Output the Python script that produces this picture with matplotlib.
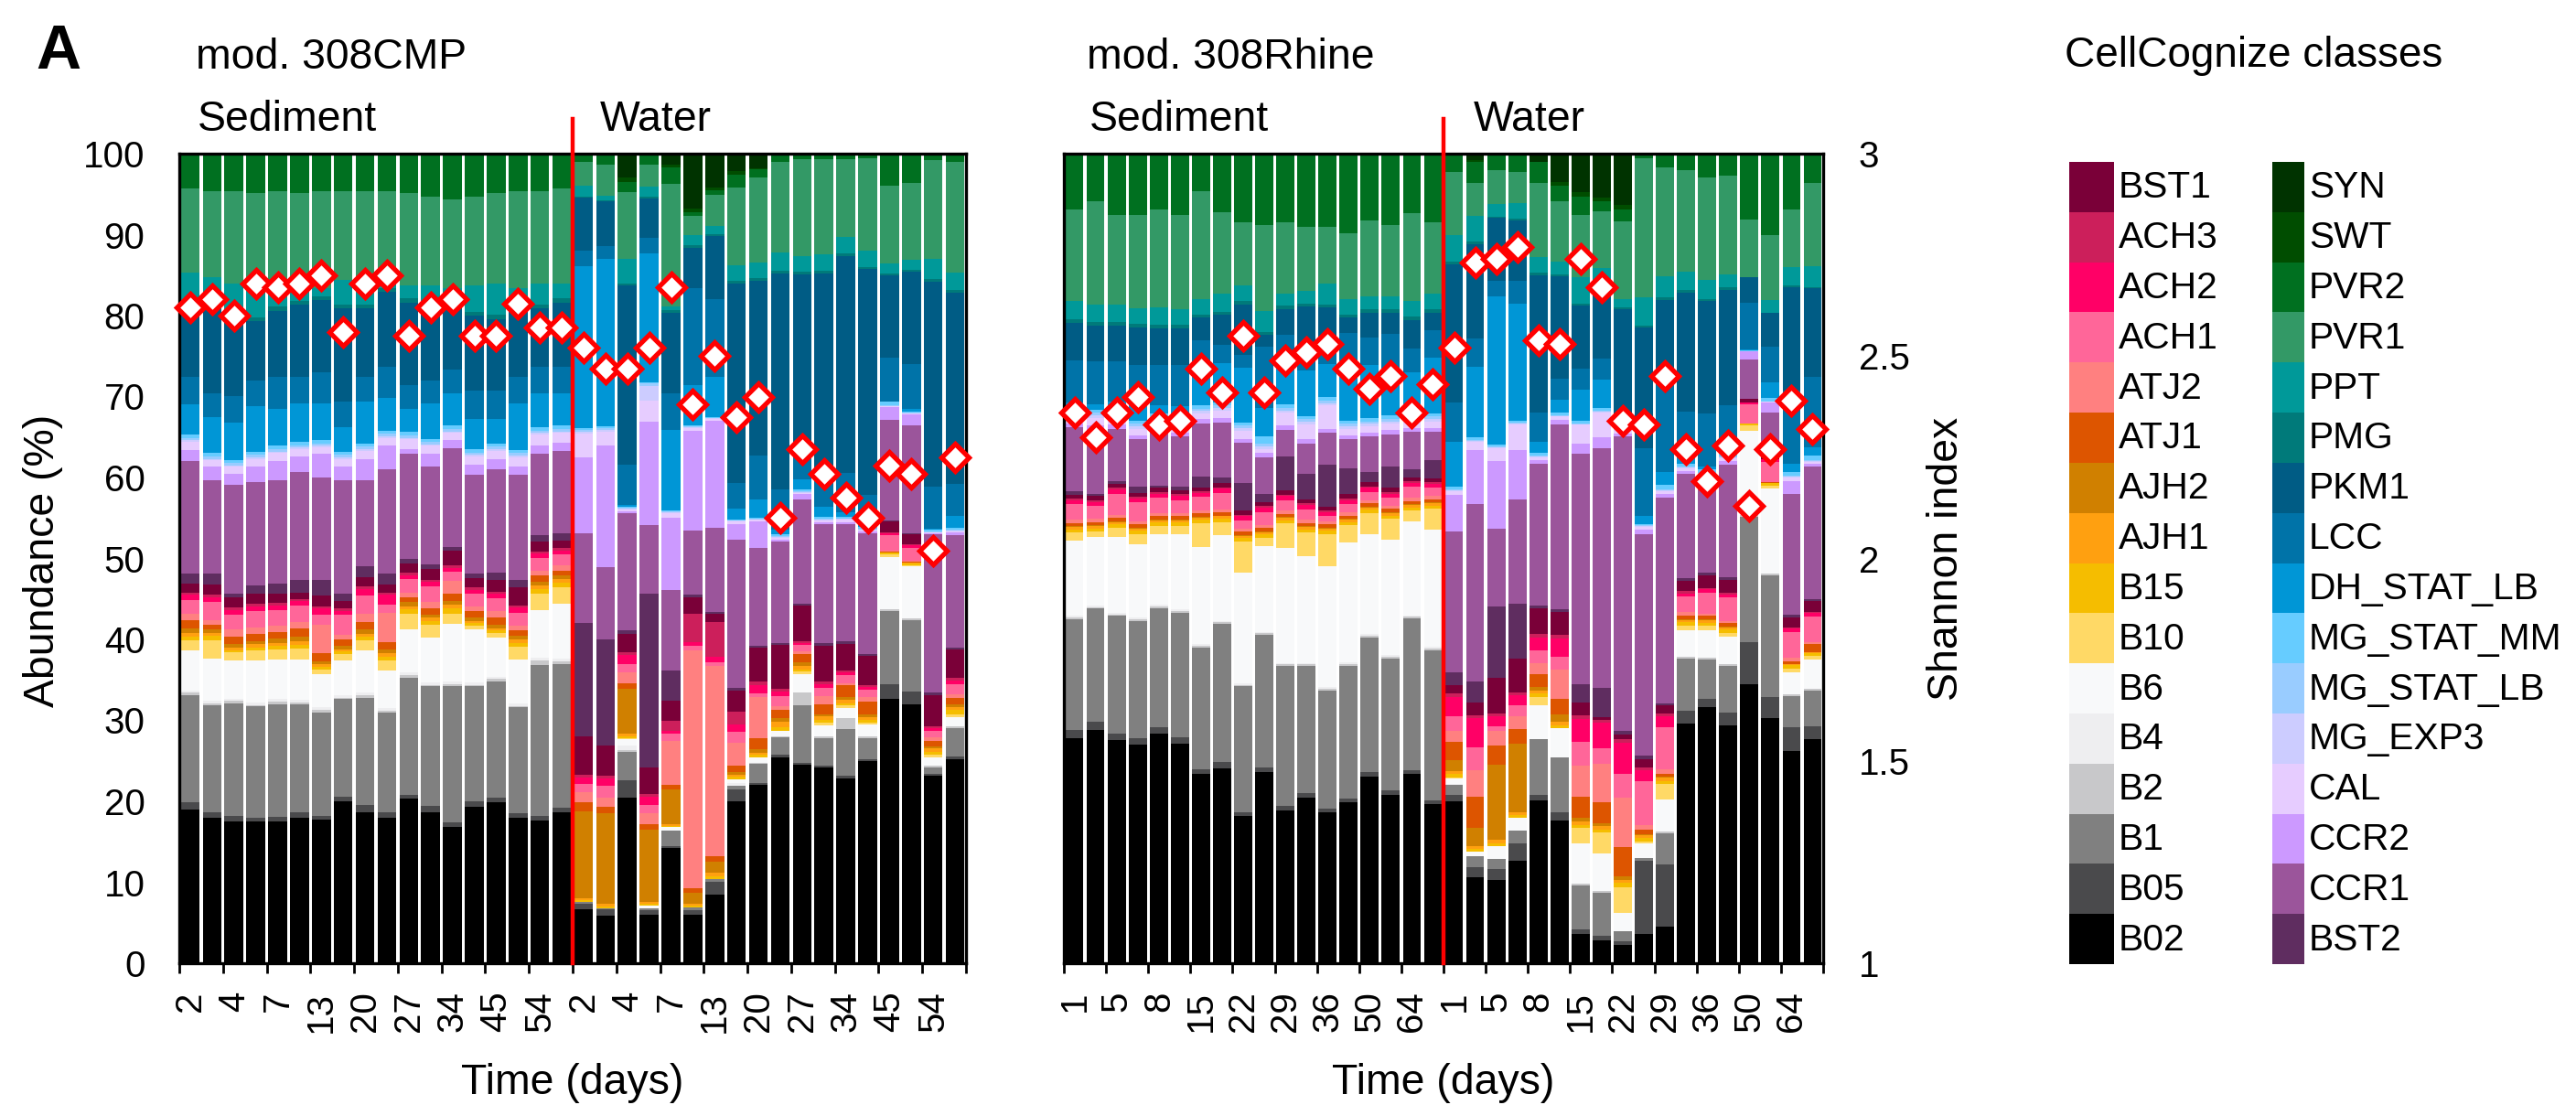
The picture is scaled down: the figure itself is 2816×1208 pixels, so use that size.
import numpy as np
import matplotlib
matplotlib.use("Agg")
import matplotlib.pyplot as plt
from matplotlib.patches import Rectangle

plt.rcParams['font.family'] = ['Liberation Sans', 'DejaVu Sans']

# ---------------------------------------------------------------- data
# stacking order, bottom -> top
classes = ["B02", "B05", "B1", "B2", "B4", "B6", "B10", "B15", "AJH1", "AJH2",
           "ATJ1", "ATJ2", "ACH1", "ACH2", "ACH3", "BST1", "BST2", "CCR1", "CCR2",
           "CAL", "MG_EXP3", "MG_STAT_LB", "MG_STAT_MM", "DH_STAT_LB", "LCC",
           "PKM1", "PMG", "PPT", "PVR1", "PVR2", "SWT", "SYN"]
colors = ["#000000", "#4a4a4c", "#808080", "#c8c8ca", "#eeeef0", "#f8f9fa",
          "#ffd966", "#f5bd00", "#ffa010", "#d08000", "#dd5500", "#ff8080",
          "#ff6699", "#ff0066", "#cc1f5b", "#7a0038", "#5f2d60", "#9b559b",
          "#cc99ff", "#e6ccff", "#ccccff", "#99ccff", "#66ccff", "#0096d6",
          "#0073a8", "#005c85", "#007a7a", "#009999", "#339966", "#007020",
          "#004d00", "#003300"]

cmp_days = ["2", "4", "7", "13", "20", "27", "34", "45", "54"]
rhine_days = ["1", "5", "8", "15", "22", "29", "36", "50", "64"]

# abundance (%) per class: 18 sediment bars followed by 18 water bars
cmp_ab = {
    "B02": [19.0, 18.0, 17.5, 17.5, 17.5, 18.0, 17.7, 20.0, 18.7, 18.0, 20.3, 18.7, 16.8, 19.3, 19.9, 18.0, 17.6, 18.7,
            6.7, 6.0, 20.7, 6.0, 14.3, 6.0, 8.6, 20.2, 22.4, 25.7, 24.7, 24.0, 23.0, 25.0, 33.1, 31.8, 23.4, 25.3],
    "B05": [0.9, 0.6, 0.7, 0.5, 0.6, 0.7, 0.5, 0.6, 0.8, 0.6, 0.5, 0.7, 0.6, 0.7, 0.6, 0.5, 0.6, 0.5,
            0.7, 0.7, 2.2, 0.5, 0.3, 0.6, 1.6, 1.5, 0.3, 0.3, 0.3, 0.3, 0.3, 0.3, 1.9, 1.6, 0.3, 0.3],
    "B1": [13.2, 13.3, 13.9, 13.7, 13.9, 13.3, 12.8, 12.0, 13.3, 12.4, 14.5, 14.8, 16.8, 14.2, 14.3, 13.1, 18.6, 17.8,
           0.2, 0.2, 3.5, 0.3, 1.9, 0.3, 0.3, 0.5, 2.4, 2.2, 7.1, 3.3, 5.9, 2.6, 9.1, 8.8, 0.8, 3.6],
    "B2": [0.3, 0.2, 0.3, 0.2, 0.3, 0.2, 0.3, 0.2, 0.3, 0.2, 0.3, 0.2, 0.3, 0.2, 0.3, 0.2, 0.6, 0.3,
           0.0, 0.0, 0.3, 0.0, 0.0, 0.0, 0.0, 0.0, 0.1, 0.1, 1.6, 0.3, 1.3, 0.2, 0.2, 0.2, 0.2, 0.2],
    "B4": [0.3, 0.3, 0.3, 0.3, 0.3, 0.3, 0.3, 0.3, 0.3, 0.3, 0.3, 0.3, 0.3, 0.3, 0.3, 0.3, 0.3, 0.3,
           0.0, 0.0, 0.5, 0.0, 0.0, 0.0, 0.0, 0.3, 0.0, 0.0, 0.0, 0.0, 0.0, 0.0, 0.0, 0.0, 0.0, 0.0],
    "B6": [4.9, 5.2, 4.7, 5.2, 4.9, 5.0, 4.1, 4.3, 5.2, 4.7, 5.3, 5.5, 7.1, 6.5, 4.8, 5.4, 5.9, 6.8,
           0.0, 0.0, 0.8, 0.3, 0.4, 0.0, 0.0, 0.5, 0.7, 0.7, 2.3, 1.3, 1.3, 1.4, 6.6, 6.4, 1.0, 1.1],
    "B10": [1.3, 2.3, 1.0, 1.2, 1.3, 1.4, 0.6, 0.8, 1.3, 1.2, 2.0, 1.6, 1.3, 0.5, 0.6, 1.6, 2.0, 2.0,
            0.0, 0.0, 0.2, 0.0, 0.0, 0.0, 0.0, 0.0, 0.0, 0.0, 0.3, 0.3, 0.3, 0.3, 0.3, 0.2, 0.3, 0.4],
    "B15": [0.4, 0.5, 0.3, 0.4, 0.4, 0.4, 0.3, 0.3, 0.4, 0.5, 0.5, 0.5, 0.6, 0.3, 0.3, 0.5, 0.6, 0.6,
            0.2, 0.2, 0.2, 0.2, 0.2, 0.2, 0.3, 0.3, 0.3, 0.5, 0.3, 0.4, 0.3, 0.3, 0.2, 0.2, 0.4, 0.5],
    "AJH1": [0.5, 0.4, 0.3, 0.4, 0.4, 0.5, 0.3, 0.3, 0.4, 0.4, 0.4, 0.4, 0.5, 0.3, 0.3, 0.4, 0.5, 0.5,
             0.3, 0.3, 0.3, 0.2, 0.2, 0.2, 0.5, 0.3, 0.3, 0.6, 0.4, 0.4, 0.4, 0.4, 0.1, 0.1, 0.4, 0.4],
    "AJH2": [0.5, 0.4, 0.4, 0.4, 0.5, 0.5, 0.4, 0.4, 0.5, 0.5, 0.5, 0.4, 0.5, 0.4, 0.4, 0.4, 0.4, 0.4,
             10.7, 11.4, 5.6, 8.9, 4.3, 1.4, 1.4, 0.3, 0.5, 0.5, 0.5, 0.3, 0.3, 0.3, 0.0, 0.0, 0.3, 0.3],
    "ATJ1": [1.1, 0.6, 0.9, 0.9, 0.8, 1.0, 1.0, 0.8, 1.0, 0.9, 0.6, 0.7, 0.8, 0.8, 0.9, 0.7, 0.8, 0.6,
             1.2, 0.7, 0.7, 0.7, 0.6, 0.6, 0.6, 0.8, 1.3, 1.0, 1.0, 1.2, 1.5, 1.6, 0.1, 0.1, 0.7, 0.8],
    "ATJ2": [0.8, 0.6, 0.9, 0.8, 0.8, 0.9, 3.5, 0.6, 1.0, 3.6, 0.6, 0.8, 1.6, 0.6, 0.8, 0.6, 0.6, 0.6,
             1.2, 1.2, 1.4, 1.4, 5.4, 29.4, 23.7, 2.9, 5.2, 0.5, 0.3, 1.0, 0.3, 0.5, 0.1, 0.1, 0.4, 0.5],
    "ACH1": [1.7, 2.2, 1.9, 2.0, 1.9, 2.0, 1.2, 2.4, 2.2, 1.0, 1.7, 2.0, 1.2, 1.6, 1.6, 1.6, 1.6, 1.4,
             1.1, 1.5, 1.0, 1.0, 1.0, 0.5, 0.5, 1.3, 0.5, 1.2, 0.8, 1.0, 1.0, 1.0, 1.9, 1.6, 0.8, 1.2],
    "ACH2": [0.6, 0.6, 0.5, 0.6, 0.6, 0.5, 0.8, 0.5, 0.8, 1.2, 0.4, 0.5, 0.4, 0.4, 0.5, 0.6, 0.5, 0.5,
             0.8, 0.9, 1.2, 1.0, 0.3, 0.5, 0.7, 1.0, 1.0, 0.6, 0.3, 0.5, 0.3, 0.3, 0.3, 0.3, 0.4, 0.5],
    "ACH3": [0.3, 0.3, 0.3, 0.3, 0.3, 0.3, 0.3, 0.3, 0.3, 0.3, 0.3, 0.3, 0.3, 0.3, 0.3, 0.3, 0.3, 0.3,
             0.3, 0.3, 0.3, 0.3, 1.2, 3.5, 4.3, 1.6, 0.5, 0.3, 0.2, 0.3, 0.2, 0.2, 0.1, 0.1, 0.2, 0.3],
    "BST1": [1.1, 1.3, 1.3, 1.3, 1.2, 0.8, 1.3, 0.9, 1.2, 1.0, 1.2, 1.3, 1.9, 1.2, 1.4, 2.2, 1.2, 0.9,
             4.8, 3.8, 2.3, 3.3, 2.5, 2.0, 1.0, 2.6, 4.2, 5.5, 4.4, 4.4, 3.4, 3.6, 1.3, 1.3, 3.9, 3.5],
    "BST2": [1.2, 1.3, 0.5, 1.0, 1.2, 1.6, 2.0, 1.0, 1.3, 1.3, 0.6, 0.6, 0.4, 0.5, 1.0, 1.0, 0.8, 0.9,
             14.1, 13.3, 0.5, 21.4, 3.8, 0.3, 0.3, 0.3, 0.3, 0.3, 0.3, 0.3, 0.3, 0.3, 0.1, 0.1, 0.3, 0.2],
    "CCR1": [13.9, 11.6, 13.4, 12.7, 12.8, 13.3, 12.6, 14.0, 10.7, 12.9, 12.9, 12.0, 12.2, 12.2, 12.7, 12.9, 10.0, 10.2,
             11.1, 9.0, 14.6, 8.4, 10.0, 8.0, 10.5, 18.5, 12.3, 12.6, 13.0, 14.6, 14.6, 14.9, 12.7, 13.3, 19.8, 14.0],
    "CCR2": [1.4, 1.6, 1.3, 1.9, 2.3, 1.9, 2.9, 1.6, 2.6, 2.9, 0.6, 1.6, 1.0, 1.3, 1.3, 1.0, 1.0, 1.0,
             9.4, 15.2, 0.2, 12.7, 9.0, 12.3, 13.3, 2.0, 3.3, 0.2, 0.6, 0.2, 0.2, 0.2, 1.6, 1.3, 0.1, 0.3],
    "CAL": [1.0, 0.8, 0.9, 1.0, 1.0, 0.9, 0.8, 1.0, 1.0, 1.0, 1.2, 1.0, 0.9, 1.0, 1.0, 1.2, 1.4, 1.2,
            2.9, 1.7, 0.3, 2.6, 0.6, 0.3, 0.2, 0.3, 0.2, 0.3, 0.2, 0.3, 0.3, 0.2, 0.1, 0.1, 0.1, 0.2],
    "MG_EXP3": [0.2, 0.2, 0.2, 0.2, 0.2, 0.2, 0.2, 0.2, 0.2, 0.2, 0.2, 0.2, 0.2, 0.2, 0.2, 0.2, 0.2, 0.2,
                0.3, 0.3, 0.1, 1.8, 0.1, 0.1, 0.1, 0.1, 0.1, 0.1, 0.1, 0.1, 0.1, 0.1, 0.0, 0.0, 0.0, 0.1],
    "MG_STAT_LB": [0.3, 0.3, 0.3, 0.3, 0.3, 0.3, 0.3, 0.3, 0.3, 0.3, 0.3, 0.3, 0.3, 0.3, 0.3, 0.3, 0.3, 0.3,
                   0.2, 0.2, 0.1, 0.3, 0.1, 0.1, 0.1, 0.1, 0.1, 0.1, 0.1, 0.1, 0.1, 0.1, 0.1, 0.1, 0.1, 0.1],
    "MG_STAT_MM": [0.4, 0.4, 0.4, 0.4, 0.4, 0.4, 0.4, 0.4, 0.4, 0.4, 0.4, 0.4, 0.4, 0.4, 0.4, 0.4, 0.4, 0.4,
                   0.2, 0.2, 0.1, 0.2, 0.1, 0.1, 0.1, 0.1, 0.1, 0.2, 0.2, 0.2, 0.2, 0.2, 0.4, 0.2, 0.2, 0.2],
    "DH_STAT_LB": [3.7, 4.5, 4.6, 5.6, 4.6, 4.7, 4.5, 3.0, 5.2, 4.0, 2.9, 4.3, 4.0, 3.7, 3.0, 5.7, 4.2, 4.0,
                   20.1, 21.0, 0.3, 15.8, 10.0, 5.0, 5.0, 1.3, 2.3, 0.6, 1.3, 1.3, 0.5, 0.4, 0.1, 0.3, 0.2, 1.5],
    "LCC": [3.4, 2.9, 3.3, 3.2, 3.9, 3.3, 3.9, 3.2, 3.0, 3.9, 2.9, 2.9, 2.9, 3.5, 3.5, 3.3, 3.3, 3.3,
            2.0, 1.6, 5.0, 2.0, 4.6, 12.0, 9.7, 3.2, 5.5, 5.0, 3.5, 4.0, 5.0, 3.6, 5.5, 5.5, 5.2, 4.0],
    "PKM1": [8.5, 10.5, 9.5, 7.3, 8.2, 8.9, 8.9, 11.5, 8.5, 9.2, 10.2, 9.3, 8.6, 9.3, 8.9, 8.5, 7.2, 7.9,
             6.5, 5.5, 22.4, 4.8, 10.0, 5.0, 7.8, 25.0, 22.0, 27.0, 22.0, 24.6, 27.0, 27.9, 10.3, 11.4, 25.6, 23.7],
    "PMG": [0.5, 0.5, 0.5, 0.5, 0.5, 0.5, 0.5, 0.5, 0.5, 0.5, 0.5, 0.5, 0.5, 0.5, 0.5, 0.5, 0.5, 0.5,
            0.2, 0.2, 0.3, 0.2, 0.3, 0.3, 0.3, 0.3, 0.3, 0.3, 0.3, 0.3, 0.3, 0.3, 0.2, 0.2, 0.3, 0.3],
    "PPT": [3.9, 3.3, 3.9, 4.2, 2.6, 1.6, 1.0, 3.0, 3.0, 1.9, 1.6, 1.9, 1.0, 3.2, 3.9, 2.0, 2.6, 1.9,
            1.3, 0.5, 3.0, 1.3, 0.5, 1.3, 1.0, 2.0, 2.0, 2.3, 2.0, 2.0, 2.0, 2.0, 1.3, 1.3, 2.6, 2.2],
    "PVR1": [10.4, 10.7, 11.4, 11.1, 11.7, 11.7, 12.0, 11.0, 11.0, 10.1, 11.4, 11.0, 11.0, 11.0, 11.1, 12.0, 11.4, 11.7,
             3.0, 3.9, 8.4, 2.6, 15.2, 2.3, 3.9, 9.7, 10.7, 11.3, 12.0, 11.7, 9.7, 11.4, 9.7, 9.4, 12.3, 13.7],
    "PVR2": [4.3, 4.6, 4.6, 4.9, 4.6, 4.9, 4.6, 4.6, 4.6, 4.6, 4.9, 5.3, 5.6, 5.3, 4.9, 4.6, 4.6, 4.3,
             1.0, 1.4, 1.3, 1.4, 2.1, 0.5, 0.5, 1.6, 1.0, 1.0, 0.7, 0.7, 0.7, 0.6, 4.0, 3.6, 0.8, 1.0],
    "SWT": [0, 0, 0, 0, 0, 0, 0, 0, 0, 0, 0, 0, 0, 0, 0, 0, 0, 0,
            0.0, 0.0, 0.5, 0.0, 0.3, 0.4, 0.4, 0.4, 0.2, 0, 0, 0, 0, 0, 0, 0, 0, 0],
    "SYN": [0, 0, 0, 0, 0, 0, 0, 0, 0, 0, 0, 0, 0, 0, 0, 0, 0, 0,
            0.0, 0.0, 3.0, 0.0, 1.4, 6.8, 4.2, 2.2, 1.8, 0, 0, 0, 0, 0, 0, 0, 0, 0],
}

rhine_ab = {
    "B02": [27.8, 28.8, 27.5, 26.9, 28.3, 27.1, 23.3, 24.1, 18.2, 23.6, 18.9, 20.5, 18.6, 19.8, 23.0, 20.8, 23.3, 19.6,
            20.1, 10.7, 10.4, 12.7, 20.1, 17.8, 3.6, 2.9, 2.3, 3.6, 4.5, 29.9, 31.8, 29.5, 34.7, 30.5, 26.3, 27.9],
    "B05": [1.0, 1.0, 0.8, 0.8, 0.8, 0.8, 0.6, 0.8, 0.5, 0.6, 0.5, 0.5, 0.5, 0.5, 0.6, 0.5, 0.5, 0.5,
            0.8, 1.3, 1.3, 2.2, 0.6, 1.0, 0.6, 0.5, 0.4, 9.1, 7.8, 1.6, 1.0, 1.6, 5.2, 2.6, 2.9, 1.6],
    "B1": [13.7, 14.0, 14.5, 14.5, 14.7, 15.3, 15.0, 17.0, 15.5, 16.4, 17.3, 15.7, 14.6, 16.4, 16.6, 16.3, 18.7, 18.5,
           1.2, 1.3, 1.3, 1.6, 6.9, 6.8, 5.5, 5.5, 1.3, 0.3, 3.9, 6.5, 4.9, 5.8, 15.6, 15.2, 3.9, 4.5],
    "B2": [0.2, 0.2, 0.2, 0.2, 0.2, 0.2, 0.2, 0.2, 0.2, 0.2, 0.2, 0.2, 0.2, 0.2, 0.2, 0.2, 0.2, 0.2,
           0.1, 0.0, 0.0, 0.0, 0.0, 0.0, 0.2, 0.2, 0.0, 0.0, 0.2, 0.2, 0.2, 0.2, 0.2, 0.2, 0.2, 0.2],
    "B4": [0.2, 0.2, 0.2, 0.2, 0.2, 0.2, 0.2, 0.2, 0.2, 0.2, 0.2, 0.2, 0.2, 0.2, 0.2, 0.2, 0.2, 0.2,
           0.1, 0.0, 0.0, 0.0, 0.0, 0.0, 0.0, 0.0, 0.0, 0.0, 0.0, 0.0, 0.0, 0.0, 0.0, 0.0, 0.0, 0.0],
    "B6": [9.3, 8.4, 9.4, 9.0, 8.7, 9.3, 12.0, 10.6, 13.7, 10.6, 14.2, 13.2, 14.9, 14.8, 12.3, 14.2, 11.6, 14.5,
           0.6, 0.6, 1.6, 1.6, 4.2, 3.6, 5.0, 4.7, 2.3, 1.9, 4.0, 3.3, 3.4, 3.4, 10.5, 10.5, 2.7, 3.7],
    "B10": [1.0, 0.7, 1.1, 1.3, 1.0, 1.0, 2.9, 1.6, 3.8, 1.0, 3.0, 2.9, 4.0, 2.1, 2.6, 2.6, 1.3, 2.5,
            0.2, 0.0, 0.0, 0.0, 1.0, 0.0, 1.9, 2.6, 3.2, 0.2, 1.9, 0.6, 0.6, 0.5, 0.6, 0.4, 0.5, 0.4],
    "B15": [0.4, 0.4, 0.4, 0.4, 0.4, 0.4, 0.4, 0.4, 0.4, 0.4, 0.4, 0.4, 0.4, 0.4, 0.4, 0.4, 0.4, 0.4,
            0.4, 0.3, 0.3, 0.3, 0.4, 0.4, 0.4, 0.4, 0.5, 0.4, 0.4, 0.4, 0.4, 0.4, 0.3, 0.3, 0.4, 0.4],
    "AJH1": [0.3, 0.3, 0.3, 0.3, 0.3, 0.3, 0.3, 0.3, 0.3, 0.3, 0.3, 0.3, 0.3, 0.3, 0.3, 0.3, 0.3, 0.3,
             0.4, 0.4, 0.4, 0.4, 0.4, 0.4, 0.4, 0.4, 0.4, 0.4, 0.4, 0.3, 0.3, 0.3, 0.0, 0.0, 0.1, 0.1],
    "AJH2": [0.1, 0.1, 0.1, 0.1, 0.1, 0.1, 0.1, 0.1, 0.1, 0.1, 0.1, 0.1, 0.1, 0.1, 0.1, 0.1, 0.1, 0.1,
             1.3, 2.3, 9.4, 8.5, 0.4, 1.0, 0.5, 0.4, 0.4, 0.1, 0.1, 0.1, 0.1, 0.1, 0.0, 0.0, 0.0, 0.0],
    "ATJ1": [0.4, 0.4, 0.4, 0.4, 0.4, 0.4, 0.4, 0.4, 0.4, 0.4, 0.4, 0.4, 0.4, 0.4, 0.4, 0.4, 0.4, 0.4,
             2.3, 3.9, 2.3, 1.9, 1.6, 1.9, 2.6, 2.6, 3.6, 0.6, 0.4, 0.4, 0.4, 0.4, 0.0, 0.1, 0.4, 1.0],
    "ATJ2": [0.4, 0.4, 0.4, 0.4, 0.4, 0.4, 0.4, 0.4, 0.4, 0.4, 0.4, 0.4, 0.4, 0.4, 0.4, 0.4, 0.4, 0.4,
             1.3, 3.2, 1.9, 1.6, 1.3, 3.6, 3.9, 4.9, 6.2, 0.5, 0.5, 0.5, 0.3, 0.3, 0.0, 0.0, 0.4, 0.2],
    "ACH1": [1.9, 1.6, 2.6, 2.3, 1.9, 1.6, 1.6, 2.0, 1.0, 1.6, 1.3, 1.3, 0.6, 1.0, 1.0, 1.0, 1.3, 1.0,
             1.9, 2.9, 0.5, 1.3, 1.6, 1.6, 2.9, 1.9, 2.9, 5.5, 5.3, 1.9, 2.6, 2.9, 2.3, 2.6, 3.2, 3.2],
    "ACH2": [0.5, 0.5, 0.5, 0.5, 0.5, 0.5, 0.5, 0.5, 0.5, 0.5, 0.5, 0.5, 0.5, 0.5, 0.5, 0.5, 0.5, 0.5,
             2.3, 3.6, 1.3, 1.3, 1.6, 2.3, 2.9, 3.2, 3.9, 1.3, 1.3, 0.4, 0.4, 0.4, 0.3, 0.3, 0.4, 0.5],
    "ACH3": [0.2, 0.2, 0.2, 0.2, 0.2, 0.2, 0.2, 0.2, 0.2, 0.2, 0.2, 0.2, 0.2, 0.2, 0.2, 0.2, 0.2, 0.2,
             0.5, 0.4, 0.3, 0.3, 0.4, 0.4, 0.4, 0.4, 0.5, 0.4, 0.4, 0.3, 0.2, 0.2, 0.0, 0.0, 0.1, 0.1],
    "BST1": [0.5, 0.5, 0.5, 0.5, 0.5, 0.5, 0.5, 0.5, 0.5, 0.5, 0.5, 0.5, 0.5, 0.5, 0.5, 0.5, 0.5, 0.5,
             1.0, 1.6, 4.5, 4.2, 3.2, 2.9, 1.6, 0.4, 0.6, 1.0, 1.0, 1.3, 1.6, 1.6, 0.4, 0.3, 1.3, 1.3],
    "BST2": [0.4, 0.3, 0.3, 0.8, 0.3, 0.5, 1.3, 0.7, 3.4, 1.0, 4.2, 3.2, 5.2, 3.2, 1.3, 2.6, 1.0, 2.2,
             1.6, 2.6, 8.8, 6.9, 0.3, 0.3, 2.3, 3.6, 0.4, 0.4, 0.3, 0.3, 0.3, 0.3, 0.0, 0.0, 0.3, 0.3],
    "CCR1": [7.9, 7.9, 6.5, 5.8, 6.6, 6.1, 6.6, 6.8, 5.0, 4.6, 3.3, 3.7, 3.9, 3.6, 4.3, 4.0, 4.6, 3.5,
             17.5, 22.1, 9.7, 12.9, 17.5, 23.0, 28.6, 30.2, 36.6, 27.5, 25.6, 13.0, 11.5, 14.0, 4.9, 5.5, 15.0, 16.5],
    "CCR2": [0.5, 0.5, 0.5, 0.5, 0.5, 0.5, 0.5, 0.5, 0.5, 0.5, 0.5, 0.5, 0.5, 0.5, 0.5, 0.5, 0.5, 0.5,
             4.5, 6.8, 8.4, 6.2, 0.5, 0.6, 1.3, 1.3, 0.4, 0.6, 0.4, 0.3, 0.2, 0.4, 1.0, 1.3, 1.6, 0.4],
    "CAL": [1.0, 1.0, 0.8, 0.8, 0.8, 0.8, 0.7, 1.0, 1.0, 0.5, 1.6, 1.9, 2.9, 0.8, 0.8, 0.8, 0.8, 0.8,
            0.5, 1.0, 1.6, 3.2, 0.3, 0.4, 2.3, 3.2, 0.4, 0.3, 0.4, 0.4, 0.5, 0.4, 0.1, 0.1, 0.4, 0.2],
    "MG_EXP3": [0.3, 0.3, 0.3, 0.3, 0.3, 0.3, 0.3, 0.3, 0.3, 0.3, 0.3, 0.3, 0.3, 0.3, 0.3, 0.3, 0.3, 0.3,
                0.1, 0.1, 0.1, 0.1, 0.1, 0.1, 0.1, 0.1, 0.1, 0.1, 0.1, 0.1, 0.1, 0.1, 0.0, 0.0, 0.1, 0.1],
    "MG_STAT_LB": [0.3, 0.3, 0.3, 0.3, 0.3, 0.3, 0.3, 0.3, 0.3, 0.3, 0.3, 0.3, 0.3, 0.3, 0.3, 0.3, 0.3, 0.3,
                   0.1, 0.1, 0.1, 0.1, 0.1, 0.1, 0.1, 0.1, 0.1, 0.1, 0.1, 0.1, 0.1, 0.1, 0.0, 0.0, 0.1, 0.1],
    "MG_STAT_MM": [0.4, 0.4, 0.4, 0.4, 0.4, 0.4, 0.4, 0.4, 0.4, 1.0, 0.4, 0.4, 0.4, 0.4, 0.4, 0.4, 0.4, 0.4,
                   0.4, 0.3, 0.2, 0.2, 0.4, 0.3, 0.3, 0.3, 0.1, 0.2, 0.6, 0.4, 0.4, 0.4, 0.1, 0.4, 0.5, 0.6],
    "DH_STAT_LB": [0.6, 0.6, 1.0, 2.0, 1.0, 1.5, 4.5, 4.8, 6.8, 3.4, 5.4, 5.6, 4.1, 6.5, 6.5, 5.5, 5.0, 6.8,
                   5.5, 8.8, 18.5, 14.6, 1.3, 1.6, 3.9, 3.6, 0.2, 1.0, 1.6, 1.0, 0.4, 0.5, 0.1, 1.9, 1.0, 1.0],
    "LCC": [5.2, 5.3, 5.0, 4.8, 5.0, 5.0, 3.5, 2.3, 1.5, 7.6, 3.2, 2.6, 2.6, 4.3, 3.4, 4.6, 3.0, 3.4,
            4.9, 3.6, 1.9, 2.9, 3.6, 2.6, 2.6, 2.6, 1.0, 8.4, 13.0, 5.5, 6.5, 5.5, 5.8, 4.5, 9.1, 8.8],
    "PKM1": [4.6, 4.5, 4.4, 4.7, 4.5, 4.6, 2.8, 3.7, 6.3, 1.5, 3.2, 5.3, 4.4, 1.9, 3.1, 2.6, 3.5, 2.2,
             17.2, 11.7, 7.8, 7.5, 16.9, 12.7, 7.8, 8.8, 13.5, 14.9, 8.4, 14.8, 14.0, 14.3, 3.2, 4.2, 12.8, 11.0],
    "PMG": [0.4, 0.4, 0.4, 0.4, 0.4, 0.4, 0.4, 0.4, 0.4, 0.4, 0.4, 0.4, 0.4, 0.4, 0.4, 0.4, 0.4, 0.4,
            0.3, 0.3, 0.2, 0.2, 0.3, 0.3, 0.3, 0.3, 0.3, 0.3, 0.3, 0.3, 0.3, 0.3, 0.0, 0.0, 0.2, 0.2],
    "PPT": [2.3, 2.2, 2.2, 1.9, 2.2, 1.9, 1.9, 2.2, 1.9, 2.5, 1.5, 1.6, 2.6, 1.9, 1.6, 1.6, 1.9, 1.9,
            3.3, 3.2, 1.6, 1.9, 2.0, 1.6, 3.2, 2.3, 1.0, 3.5, 2.6, 2.3, 2.3, 1.6, 0.0, 1.6, 2.3, 2.6],
    "PVR1": [11.3, 12.7, 11.1, 11.6, 12.0, 11.7, 13.3, 10.1, 7.8, 10.7, 8.8, 7.9, 7.0, 8.1, 9.4, 8.8, 10.9, 8.8,
             7.8, 4.2, 4.2, 3.9, 9.1, 7.5, 7.8, 7.1, 9.7, 17.2, 13.6, 12.7, 12.7, 12.3, 7.1, 8.1, 7.1, 10.4],
    "PVR2": [6.9, 5.9, 7.5, 7.5, 6.9, 7.5, 4.6, 7.2, 8.5, 8.8, 8.5, 9.0, 9.0, 9.8, 8.2, 8.8, 7.3, 8.5,
             2.3, 2.6, 2.0, 2.3, 2.6, 1.9, 2.3, 1.3, 1.5, 0.6, 1.7, 2.0, 3.0, 2.7, 8.2, 10.1, 6.9, 3.6],
    "SWT": [0, 0, 0, 0, 0, 0, 0, 0, 0, 0, 0, 0, 0, 0, 0, 0, 0, 0,
            0.0, 0.2, 0.0, 0.0, 0.0, 0.5, 0.5, 0.5, 0.5, 0, 0, 0, 0, 0, 0, 0, 0, 0],
    "SYN": [0, 0, 0, 0, 0, 0, 0, 0, 0, 0, 0, 0, 0, 0, 0, 0, 0, 0,
            0.0, 0.8, 0.0, 0.0, 1.0, 3.5, 4.8, 5.5, 6.4, 0, 0, 0, 0, 0, 0, 0, 0, 0],
}

cmp_shannon = [2.62, 2.64, 2.60, 2.68, 2.67, 2.68, 2.70, 2.56, 2.68, 2.70, 2.55, 2.62, 2.64, 2.55, 2.55, 2.63, 2.57, 2.57,
               2.52, 2.47, 2.47, 2.52, 2.67, 2.38, 2.50, 2.35, 2.40, 2.10, 2.27, 2.21, 2.15, 2.10, 2.23, 2.21, 2.02, 2.25]
rhine_shannon = [2.36, 2.30, 2.36, 2.40, 2.33, 2.34, 2.47, 2.41, 2.55, 2.41, 2.49, 2.51, 2.53, 2.47, 2.42, 2.45, 2.36, 2.43,
                 2.52, 2.73, 2.74, 2.77, 2.54, 2.53, 2.74, 2.67, 2.34, 2.33, 2.45, 2.27, 2.19, 2.28, 2.13, 2.27, 2.39, 2.32]

# ---------------------------------------------------------------- figure
W, H = 2816, 1208
fig = plt.figure(figsize=(W / 200, H / 200), dpi=200)

TICK_FS = 14.5
LABEL_FS = 16.7


def draw_panel(ax, ab, shannon, days, show_left, show_right):
    x = np.arange(36)
    table = np.array([ab[c] for c in classes], dtype=float)
    table = table * 100.0 / table.sum(axis=0)
    bottom = np.zeros(36)
    for col, row in zip(colors, table):
        ax.bar(x, row, bottom=bottom, width=0.86, color=col, linewidth=0,
               antialiased=False)
        bottom += row

    ax.set_xlim(-0.5, 35.5)
    ax.set_ylim(0, 100)
    for s in ax.spines.values():
        s.set_linewidth(1.2)
        s.set_color("black")

    ax.set_xticks(np.arange(0, 36, 2), labels=days + days, rotation=90)
    ax.set_xticks(np.arange(-0.5, 36, 2), minor=True)
    ax.tick_params(axis="x", which="major", length=0, pad=11, labelsize=TICK_FS)
    ax.tick_params(axis="x", which="minor", length=3.8, width=1.0)

    if show_left:
        ax.set_yticks(np.arange(0, 101, 10))
        ax.tick_params(axis="y", length=0, pad=13.5, labelsize=TICK_FS)
    else:
        ax.set_yticks([])

    # sediment / water divider
    ax.plot([17.5, 17.5], [0, 104.3], color="red", lw=1.6, clip_on=False, zorder=5)

    sx = ax.twinx()
    sx.set_ylim(1, 3)
    for s in sx.spines.values():
        s.set_visible(False)
    sx.plot(x, shannon, linestyle="none", marker="D", ms=7.6, mfc="white",
            mec="red", mew=1.9, clip_on=False, zorder=6)
    if show_right:
        sx.set_yticks([1, 1.5, 2, 2.5, 3], labels=["1", "1.5", "2", "2.5", "3"])
        sx.tick_params(axis="y", length=0, pad=14, labelsize=TICK_FS)
    else:
        sx.set_yticks([])
    return ax


ax1 = fig.add_axes([196 / W, 1 - 1053 / H, (1056 - 196) / W, (1053 - 168) / H])
ax2 = fig.add_axes([1163 / W, 1 - 1053 / H, (1993 - 1163) / W, (1053 - 168) / H])
draw_panel(ax1, cmp_ab, cmp_shannon, cmp_days, True, False)
draw_panel(ax2, rhine_ab, rhine_shannon, rhine_days, False, True)

# overlay in pixel coordinates for the free text and the legend
ov = fig.add_axes([0, 0, 1, 1], zorder=-1)
ov.set_xlim(0, W)
ov.set_ylim(H, 0)
ov.axis("off")

ov.text(39, 75, "A", fontsize=24.5, fontweight="bold", va="baseline")
ov.text(214, 75, "mod. 308CMP", fontsize=LABEL_FS, va="baseline")
ov.text(1188, 75, "mod. 308Rhine", fontsize=LABEL_FS, va="baseline")
ov.text(216, 143, "Sediment", fontsize=LABEL_FS, va="baseline")
ov.text(656, 143, "Water", fontsize=LABEL_FS, va="baseline")
ov.text(1191, 143, "Sediment", fontsize=LABEL_FS, va="baseline")
ov.text(1611, 143, "Water", fontsize=LABEL_FS, va="baseline")
ov.text(47, 613, "Abundance (%)", fontsize=LABEL_FS, rotation=90, ha="center", va="center")
ov.text(2128, 611, "Shannon index", fontsize=LABEL_FS, rotation=90, ha="center", va="center")
ov.text(626, 1184, "Time (days)", fontsize=LABEL_FS, ha="center", va="center")
ov.text(1578, 1184, "Time (days)", fontsize=LABEL_FS, ha="center", va="center")

# legend: two columns, top -> bottom in reverse stacking order
ov.text(2257, 73, "CellCognize classes", fontsize=16.5, va="baseline")
row_h = (1054 - 177) / 16
col_left = classes[15::-1]
col_right = classes[31:15:-1]
for j, (names, px, pw, tx) in enumerate([(col_left, 2262, 49, 2316),
                                          (col_right, 2484, 35, 2524)]):
    for i, name in enumerate(names):
        y0 = 177 + i * row_h
        ov.add_patch(Rectangle((px, y0), pw, row_h, facecolor=colors[classes.index(name)],
                               edgecolor="none"))
        ov.text(tx, y0 + row_h / 2 + 1, name, fontsize=14.7, va="center")

fig.savefig("out.png", dpi=200)
